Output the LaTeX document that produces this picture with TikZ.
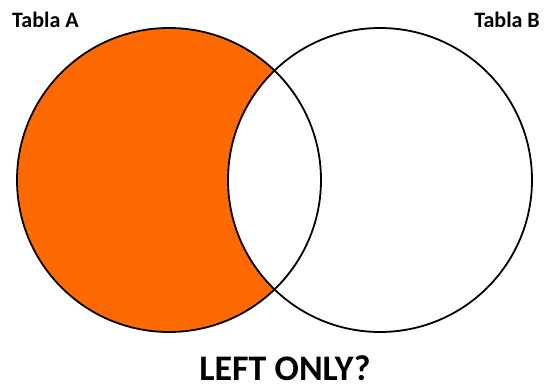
\documentclass[tikz,border=0pt]{standalone}
\usepackage{fontspec}
\setmainfont{Carlito}
\definecolor{venorange}{RGB}{255,106,0}
\tikzset{
  circline/.style={draw=black, line width=1.8pt},
  lbl/.style={inner sep=0pt, font=\bfseries\fontsize{22}{24}\selectfont}
}
\begin{document}
\begin{tikzpicture}[x=1pt,y=-1pt]
\useasboundingbox (0,0) rectangle (547,390);
\coordinate (ca) at (169,180);
\coordinate (cb) at (380,180);
\fill[venorange] (ca) circle (152);
\begin{scope}
  \clip (ca) circle (152);
  \fill[white] (cb) circle (152);
\end{scope}
\draw[circline] (ca) circle (152);
\draw[circline] (cb) circle (152);
\node[lbl, anchor=west] (ta) at (12,20) {Tabla A};
\node[lbl, anchor=east] (tb) at (540,20) {Tabla B};
\node[inner sep=0pt, anchor=base, font=\bfseries\fontsize{36}{40}\selectfont] (lo) at (285,381) {LEFT ONLY?};
\end{tikzpicture}
\end{document}
